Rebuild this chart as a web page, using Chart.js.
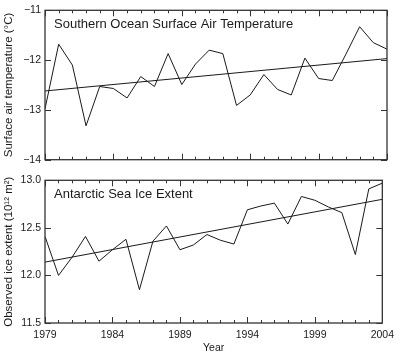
<!DOCTYPE html>
<html>
<head>
<meta charset="utf-8">
<script src="https://cdn.jsdelivr.net/npm/chart.js@4.4.1/dist/chart.umd.min.js"></script>
<style>
  body { margin: 0; background: #fff; }
  #wrap { position: relative; width: 400px; height: 360px; }
  #wrap canvas { position: absolute; left: 0; }
  #top { top: 0; }
  #bottom { top: 170px; }
</style>
</head>
<body>
<div id="wrap">
  <canvas id="top" width="400" height="170"></canvas>
  <canvas id="bottom" width="400" height="190"></canvas>
</div>
<script>
const years = [1979, 1980, 1981, 1982, 1983, 1984, 1985, 1986, 1987, 1988, 1989, 1990, 1991,
  1992, 1993, 1994, 1995, 1996, 1997, 1998, 1999, 2000, 2001, 2002, 2003, 2004];
const xTickYears = [1979, 1984, 1989, 1994, 1999, 2004];

// surface air temperature, deg C
const airTemp = [-12.98, -11.68, -12.10, -13.32, -12.53, -12.57, -12.76, -12.33, -12.53, -11.87,
  -12.49, -12.08, -11.80, -11.87, -12.91, -12.70, -12.29, -12.59, -12.70, -11.96,
  -12.37, -12.41, -11.88, -11.33, -11.65, -11.78];
const airTempTrend = [-12.62, -11.97]; // at 1979 and 2004
const airTempTicks = [-14, -13, -12, -11];

// sea ice extent, 10^12 m^2
const iceExtent = [12.41, 12.00, 12.19, 12.41, 12.15, 12.27, 12.38, 11.85, 12.36, 12.52,
  12.27, 12.32, 12.43, 12.37, 12.33, 12.69, 12.73, 12.76, 12.54, 12.83,
  12.79, 12.72, 12.66, 12.22, 12.91, 12.97];
const iceTrend = [12.14, 12.80];
const iceTicks = [11.5, 12.0, 12.5, 13.0];

const ink = "#1a1a1a";
const sans = "'Liberation Sans', Arial, sans-serif";

// box + inward ticks like the original IDL plot
const frame = {
  id: "frame",
  afterDraw(chart) {
    const { ctx, chartArea: a, scales } = chart;
    ctx.save();
    ctx.strokeStyle = "#333";
    ctx.lineWidth = 1.3;
    ctx.strokeRect(a.left, a.top, a.right - a.left, a.bottom - a.top);
    ctx.lineWidth = 1;
    ctx.beginPath();
    years.forEach(yr => {
      const x = Math.round(scales.x.getPixelForValue(yr)) + 0.5;
      const len = xTickYears.includes(yr) ? 6 : 3;
      ctx.moveTo(x, a.top); ctx.lineTo(x, a.top + len);
      ctx.moveTo(x, a.bottom); ctx.lineTo(x, a.bottom - len);
    });
    scales.y.ticks.forEach(t => {
      const y = Math.round(scales.y.getPixelForValue(t.value)) + 0.5;
      ctx.moveTo(a.left, y); ctx.lineTo(a.left + 6, y);
      ctx.moveTo(a.right, y); ctx.lineTo(a.right - 6, y);
    });
    ctx.stroke();
    // panel heading
    ctx.fillStyle = ink;
    ctx.font = "13px " + sans;
    ctx.textBaseline = "middle";
    ctx.fillText(chart.options.plugins.frame.heading, a.left + 9, a.top + 14);
    ctx.restore();
  }
};

function makePanel(id, values, trend, yTicks, heading, yTitle, showX, pad) {
  return new Chart(document.getElementById(id), {
    type: "line",
    data: {
      datasets: [
        {
          data: values.map((v, i) => ({ x: years[i], y: v })),
          borderColor: ink,
          borderWidth: 1,
          pointRadius: 0,
          tension: 0
        },
        {
          data: [{ x: years[0], y: trend[0] }, { x: years[years.length - 1], y: trend[1] }],
          borderColor: ink,
          borderWidth: 1,
          pointRadius: 0
        }
      ]
    },
    options: {
      responsive: false,
      animation: false,
      layout: { padding: pad },
      plugins: {
        legend: { display: false },
        tooltip: { enabled: false },
        frame: { heading: heading }
      },
      scales: {
        x: {
          type: "linear",
          min: years[0],
          max: years[years.length - 1],
          display: showX,
          afterBuildTicks: s => { s.ticks = xTickYears.map(v => ({ value: v })); },
          afterFit: s => { if (showX) s.height = 37; },
          grid: { display: false, drawTicks: false },
          border: { display: false },
          ticks: {
            padding: 6,
            color: ink,
            font: { family: sans, size: 10.5 },
            callback: v => String(v)
          },
          title: {
            display: showX,
            text: "Year",
            color: ink,
            font: { family: sans, size: 10.5 },
            padding: { top: 0, bottom: 6 }
          }
        },
        y: {
          min: yTicks[0],
          max: yTicks[yTicks.length - 1],
          afterBuildTicks: s => { s.ticks = yTicks.map(v => ({ value: v })); },
          afterFit: s => { s.width = 45; },
          grid: { display: false, drawTicks: false },
          border: { display: false },
          ticks: {
            padding: 4,
            color: ink,
            font: { family: sans, size: 10.5 },
            callback: v => showX ? v.toFixed(1) : String(v).replace("-", "\u2212")
          },
          title: {
            display: true,
            text: yTitle,
            color: ink,
            font: { family: sans, size: 11.5 },
            padding: { top: 2, bottom: 0 }
          }
        }
      }
    },
    plugins: [frame]
  });
}

makePanel("top", airTemp, airTempTrend, airTempTicks,
  "Southern Ocean Surface Air Temperature", "Surface air temperature (\u00b0C)",
  false, { top: 10, right: 13, bottom: 10, left: 0 });

makePanel("bottom", iceExtent, iceTrend, iceTicks,
  "Antarctic Sea Ice Extent", "Observed ice extent (10\u00b9\u00b2 m\u00b2)",
  true, { top: 5, right: 13, bottom: 0, left: 0 });
</script>
</body>
</html>
